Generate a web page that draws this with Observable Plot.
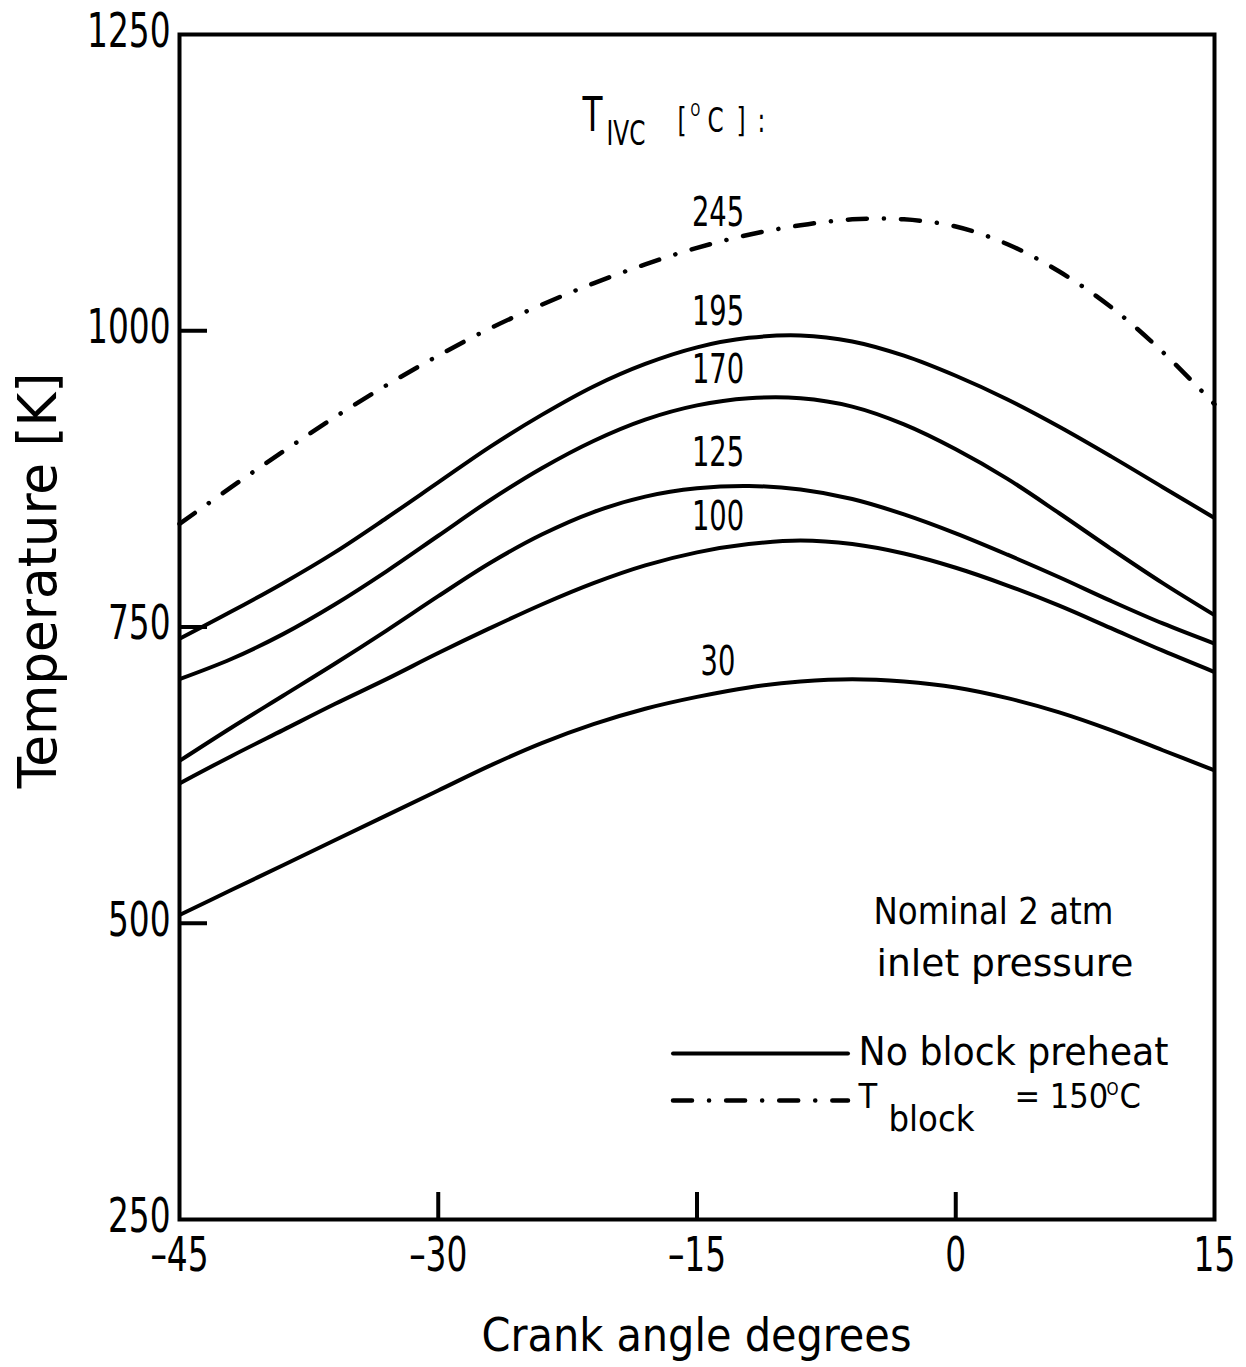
<!DOCTYPE html>
<html>
<head>
<meta charset="utf-8">
<script src="https://cdn.jsdelivr.net/npm/d3@7"></script>
<script src="https://cdn.jsdelivr.net/npm/@observablehq/plot@0.6"></script>
<style>
  html, body { margin: 0; padding: 0; background: #fff; }
  #chart svg { display: block; }
</style>
</head>
<body>
<div id="chart"></div>
<script>
// ---------------- data ----------------
const crankAngle = [-45, -42, -39, -36, -33, -30, -27, -24, -21, -18, -15, -12, -9, -6, -3, 0, 3, 6, 9, 12, 15];

// T_IVC = 30 °C, no block preheat
const temp30  = [507, 528, 549, 570, 591, 612, 633, 652, 668, 681, 691, 699, 704, 706, 704, 699, 690, 678, 663, 646, 629];
// T_IVC = 100 °C
const temp100 = [618, 641, 663, 685, 706, 728, 749, 769, 787, 802, 813, 820, 823, 820, 812, 800, 785, 768, 749, 730, 712];
// T_IVC = 125 °C
const temp125 = [637, 665, 692, 719, 747, 776, 804, 828, 847, 860, 867, 869, 866, 858, 845, 829, 811, 792, 772, 753, 736];
// T_IVC = 170 °C
const temp170 = [706, 723, 744, 769, 797, 827, 857, 884, 907, 925, 937, 943, 943, 936, 921, 900, 875, 846, 816, 787, 760];
// T_IVC = 195 °C
const temp195 = [740, 763, 787, 813, 842, 872, 902, 929, 953, 972, 986, 994, 996, 991, 979, 962, 942, 919, 894, 868, 842];
// T_IVC = 245 °C, T_block = 150 °C
const temp245 = [837, 868, 898, 927, 954, 979, 1002, 1022, 1040, 1056, 1070, 1081, 1089, 1094, 1094, 1088, 1073, 1050, 1020, 982, 938];

const seriesNames  = ["30", "100", "125", "170", "195", "245"];
const seriesValues = [temp30, temp100, temp125, temp170, temp195, temp245];
const seriesStyle  = ["solid", "solid", "solid", "solid", "solid", "dashdot"];

const xTickLabels = [-45, -30, -15, 0, 15];
const xInnerTicks = [-30, -15, 0];
const yTickLabels = [250, 500, 750, 1000, 1250];
const yInnerTicks = [500, 750, 1000];

const legendLabels = ["No block preheat", "T_block = 150°C"];

// ---------------- layout ----------------
const W = 1246, H = 1367;
const mL = 179, mR = 32, mT = 34, mB = 148;
const innerW = W - mL - mR, innerH = H - mT - mB;
const xDomain = [-45, 15], yDomain = [250, 1250];
const xPx = d3.scaleLinear().domain(xDomain).range([mL, W - mR]);
const yPx = d3.scaleLinear().domain(yDomain).range([H - mB, mT]);

const NARROW = "DejaVu Sans Condensed, DejaVu Sans, sans-serif";   // condensed further below
const WORDS = "DejaVu Sans Condensed, DejaVu Sans, sans-serif";
const NARROW_TAG = "narrow";
const DASHDOT = "19,17,0.1,17";

// tidy rows built from the arrays
const rows = seriesNames.flatMap((name, s) =>
  crankAngle.map((a, i) => ({angle: a, T: seriesValues[s][i], series: name, style: seriesStyle[s]})));
const labelIndex = crankAngle.indexOf(-15);
const labelRows = seriesNames.map((name, s) => ({angle: crankAngle[labelIndex], T: seriesValues[s][labelIndex], series: name}));

// annotation helpers (pixel layout -> data units)
function note(text, px, py, opts = {}) {
  return Plot.text([text], {
    x: () => xPx.invert(px), y: () => yPx.invert(py), text: d => d,
    textAnchor: "start", lineAnchor: "middle", fill: "#000", fontFamily: WORDS, ...opts
  });
}
function narrowNote(text, px, py, opts = {}) {
  return note(text, px, py, {ariaDescription: NARROW_TAG, fontFamily: NARROW, ...opts});
}
function legendLine(px1, px2, py, opts = {}) {
  return Plot.ruleY([yPx.invert(py)], {x1: xPx.invert(px1), x2: xPx.invert(px2), stroke: "#000", strokeWidth: 4, strokeLinecap: "round", ...opts});
}
const fmtTick = d => (d < 0 ? "\u2013" : "") + Math.abs(d);

const chart = Plot.plot({
  width: W, height: H,
  marginLeft: mL, marginRight: mR, marginTop: mT, marginBottom: mB,
  style: {fontFamily: WORDS, background: "#fff", color: "#000", overflow: "visible"},
  x: {domain: xDomain, label: null},
  y: {domain: yDomain, label: null},
  marks: [
    // curves
    Plot.line(rows.filter(d => d.style === "solid"), {
      x: "angle", y: "T", z: "series", stroke: "#000", strokeWidth: 4,
      curve: "catmull-rom", strokeLinejoin: "round", strokeLinecap: "butt"
    }),
    Plot.line(rows.filter(d => d.style === "dashdot"), {
      x: "angle", y: "T", z: "series", stroke: "#000", strokeWidth: 4.5,
      curve: "catmull-rom", strokeDasharray: DASHDOT, strokeLinecap: "round"
    }),
    // frame and inward ticks
    Plot.frame({stroke: "#000", strokeWidth: 4}),
    Plot.ruleY(yInnerTicks, {stroke: "#000", strokeWidth: 4, insetRight: innerW - 28}),
    Plot.ruleX(xInnerTicks, {stroke: "#000", strokeWidth: 4, insetTop: innerH - 27}),
    // tick labels
    Plot.axisX(xTickLabels, {tickSize: 0, tickPadding: 17, fontSize: 48, fontFamily: NARROW, ariaDescription: NARROW_TAG, tickFormat: fmtTick, label: null}),
    Plot.axisY(yTickLabels, {tickSize: 0, tickPadding: 9, dy: -3, fontSize: 48, fontFamily: NARROW, ariaDescription: NARROW_TAG, tickFormat: fmtTick, label: null}),
    // curve labels
    Plot.text(labelRows, {x: "angle", y: "T", text: "series", dx: 21, dy: -35, fontSize: 40, fontFamily: NARROW, ariaDescription: NARROW_TAG, fill: "#000"}),
    // axis titles
    note("Crank angle degrees", 696, 1336, {textAnchor: "middle", fontSize: 46}),
    note("Temperature [K]", 38, 580, {textAnchor: "middle", rotate: -90, fontSize: 54}),
    // heading T_IVC [°C]:
    narrowNote("T", 582, 115, {fontSize: 48}),
    narrowNote("IVC", 606, 134, {fontSize: 34}),
    narrowNote("[", 677, 121, {fontSize: 34}),
    narrowNote("O", 690, 110, {fontSize: 18}),
    narrowNote("C", 707, 121, {fontSize: 34}),
    narrowNote("]", 736, 121, {fontSize: 34}),
    narrowNote(":", 757, 121, {fontSize: 34}),
    // pressure note
    note("Nominal 2 atm", 873, 911, {fontSize: 38}),
    note("inlet pressure", 876, 963, {fontSize: 38}),
    // legend
    legendLine(673, 848, 1053),
    legendLine(673, 848, 1100, {strokeDasharray: DASHDOT, strokeWidth: 4.5}),
    note(legendLabels[0], 858, 1052, {fontSize: 39}),
    note("T", 858, 1097, {fontSize: 34}),
    note("block", 888, 1119, {fontSize: 36}),
    note("= 150", 1014, 1097, {fontSize: 34}),
    note("O", 1106, 1089, {fontSize: 17}),
    note("C", 1119, 1097, {fontSize: 34})
  ]
});

document.getElementById("chart").appendChild(chart);

// ---- typography: the reference uses a tall, narrow plotter lettering ----
const CONDENSE = 0.76;
d3.select(chart).selectAll("g").filter(function () {
  return this.getAttribute("aria-description") === NARROW_TAG;
}).selectAll("text").each(function () {
  const len = this.getComputedTextLength();
  if (len > 0) {
    this.setAttribute("textLength", (len * CONDENSE).toFixed(1));
    this.setAttribute("lengthAdjust", "spacingAndGlyphs");
  }
});
// word texts stretched to the widths of the reference lettering
const textWidths = {
  "Crank angle degrees": 430,
  "Temperature [K]": 416,
  "Nominal 2 atm": 240,
  "inlet pressure": 257,
  "No block preheat": 310
};
d3.select(chart).selectAll("text").each(function () {
  const w = textWidths[this.textContent];
  if (w) {
    this.setAttribute("textLength", w);
    this.setAttribute("lengthAdjust", "spacingAndGlyphs");
  }
});
</script>
</body>
</html>
